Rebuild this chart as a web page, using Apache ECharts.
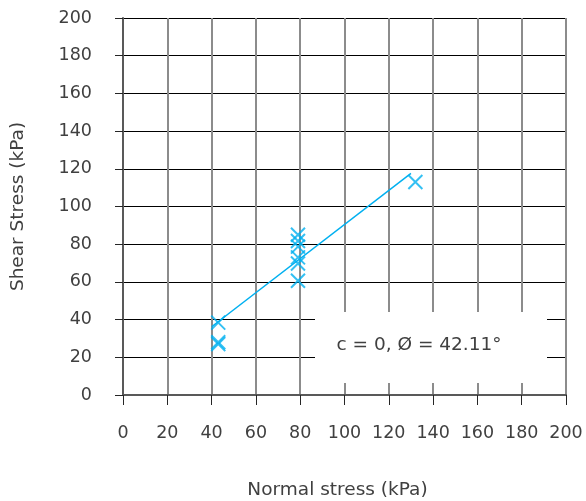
<!DOCTYPE html>
<html><head><meta charset="utf-8">
<script src="https://cdn.jsdelivr.net/npm/echarts@6/dist/echarts.min.js"></script>
<style>html,body{margin:0;padding:0;background:#fff}#c{width:586px;height:501px}</style>
</head><body><div id="c"></div>
<script>
const normalStress = [43, 43, 43, 79, 79, 79, 79, 79, 79, 132];
const shearStress = [38.4, 28, 27, 85, 81.7, 78.7, 73, 69.8, 60.6, 113];
const fitX = [40, 130];
const fitY = [36.2, 117.6];
const axisTicks = [0, 20, 40, 60, 80, 100, 120, 140, 160, 180, 200];
const annotation = 'c = 0, Ø = 42.11°';

const F = 'DejaVu Sans';
const chart = echarts.init(document.getElementById('c'));
chart.setOption({
  animation: false,
  grid: {left: 123, right: 20, top: 18, bottom: 106, outerBoundsMode: 'none', containLabel: false},
  xAxis: {
    type: 'value', min: 0, max: 200, interval: 20,
    name: 'Normal stress (kPa)', nameLocation: 'middle', nameGap: 86,
    nameTextStyle: {fontFamily: F, fontSize: 18.5, color: '#404040', padding: [0, 14, 0, 0]},
    axisLine: {show: true, onZero: false, lineStyle: {color: '#595959', width: 2}},
    axisTick: {show: true, length: 10, lineStyle: {color: '#262626', width: 1}},
    axisLabel: {margin: 29, fontFamily: F, fontSize: 17.5, color: '#404040'},
    splitLine: {show: true, lineStyle: {color: '#8c8c8c', width: 2}}
  },
  yAxis: {
    type: 'value', min: 0, max: 200, interval: 20,
    name: 'Shear Stress (kPa)', nameLocation: 'middle', nameGap: 95, nameRotate: 90,
    nameTextStyle: {fontFamily: F, fontSize: 18.5, color: '#404040'},
    axisLine: {show: true, onZero: false, lineStyle: {color: '#595959', width: 2}},
    axisTick: {show: true, length: 8, lineStyle: {color: '#262626', width: 1}},
    axisLabel: {margin: 31, fontFamily: F, fontSize: 17.5, color: '#404040'},
    splitLine: {show: true, lineStyle: {color: '#000', width: 1}}
  },
  graphic: [{
    type: 'rect', shape: {x: 315, y: 312, width: 232, height: 71},
    style: {fill: '#fff'}, z: 5
  }, {
    type: 'text', x: 419, y: 345, z: 6,
    style: {text: annotation, fontFamily: F, fontSize: 18.5, fill: '#404040', align: 'center', verticalAlign: 'middle'}
  }],
  series: [{
    type: 'line', data: fitX.map((x, i) => [x, fitY[i]]),
    symbol: 'none', lineStyle: {color: '#00b0f0', width: 1.5}, z: 3
  }, {
    type: 'scatter', data: normalStress.map((x, i) => [x, shearStress[i]]),
    symbol: 'path://M0,0L10,10M10,0L0,10', symbolSize: 14,
    itemStyle: {color: 'none', borderColor: '#00b0f0', borderWidth: 2}, z: 4
  }]
});
</script></body></html>
